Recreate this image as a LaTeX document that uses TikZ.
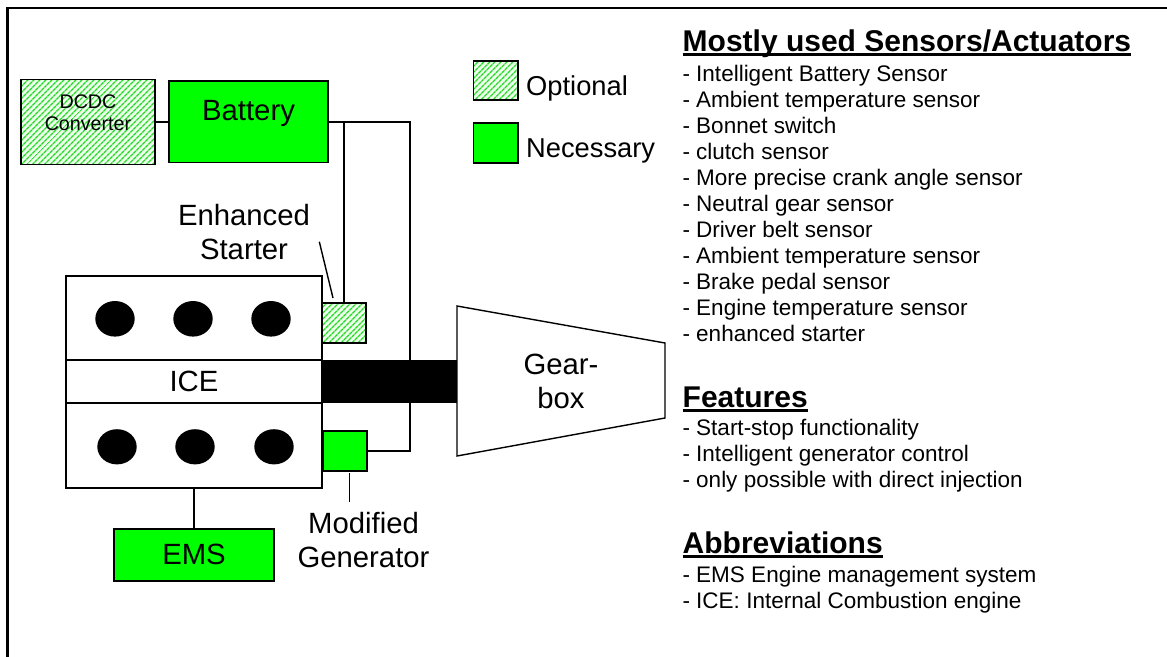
\documentclass[tikz,border=0pt]{standalone}
\usepackage{fontspec}
\setmainfont{Liberation Sans}
\usepackage{tikz}
\usetikzlibrary{positioning,calc,patterns.meta}
\definecolor{hatch}{RGB}{40,215,40}

\begin{document}
\begin{tikzpicture}[x=1pt,y=-1pt,
  lbl/.style={font=\fontsize{29.3}{34}\selectfont,align=center,inner sep=0pt},
  legtxt/.style={font=\fontsize{27.3}{32}\selectfont,inner sep=0pt,anchor=base west},
  head/.style={font=\fontsize{30}{34}\selectfont\bfseries,inner sep=0pt,anchor=base west},
  item/.style={font=\fontsize{22.5}{26}\selectfont,inner sep=0pt,anchor=base west},
  box/.style={draw,line width=1.6pt,inner sep=0pt,outer sep=0pt},
  need/.style={box,fill=green},
  opt/.style={box,preaction={fill=green!8},pattern={Lines[angle=45,distance=4pt,line width=1.6pt]},pattern color=hatch},
  wire/.style={line width=1.4pt}]
\useasboundingbox (0,0) rectangle (1167,656);
\draw[line width=2.5pt] (7.3,662) -- (7.3,8) -- (1172,8);
% power supply
\node[opt,minimum width=134pt,minimum height=85pt] (dcdc) at (87.7,121.8) {};
\node[need,right=14.3pt of dcdc,minimum width=159pt,minimum height=81.3pt] (battery) {};
\node[lbl,font=\fontsize{19.7}{22.7}\selectfont] (dcdctxt) at (88,112.6) {DCDC\\Converter};
\node[lbl,anchor=base] (battxt) at (248.5,120) {Battery};
% legend
\node[opt,minimum width=44.2pt,minimum height=39pt] (optbox) at (495.6,80.5) {};
\node[need,below=23pt of optbox,minimum width=44.2pt,minimum height=40pt] (needbox) {};
\node[legtxt] (opttxt) at (526,95) {Optional};
\node[legtxt] (needtxt) at (526,157) {Necessary};
% engine
\node[box,line width=1.8pt,anchor=north west,minimum width=256pt,minimum height=84pt] (eup) at (66,276) {};
\node[box,line width=1.8pt,below=0pt of eup,minimum width=256pt,minimum height=43pt,font=\fontsize{29.3}{34}\selectfont] (ice) {ICE};
\node[box,line width=1.8pt,below=0pt of ice,minimum width=256pt,minimum height=85pt] (elow) {};
\foreach \cx in {115,193,271} \fill (\cx,318.8) ellipse [x radius=19.7,y radius=17.8];
\foreach \cx in {117,195,274} \fill (\cx,446.8) ellipse [x radius=19.7,y radius=17.6];
\node[opt,anchor=north west,minimum width=44pt,minimum height=40pt] (starter) at (322,303) {};
\node[need,anchor=north west,minimum width=44pt,minimum height=40pt] (gen) at (323,431) {};
\node[need,below=41pt of elow,minimum width=159.6pt,minimum height=51.7pt,font=\fontsize{29.3}{34}\selectfont] (ems) {EMS};
% gearbox
\draw[wire] (457,306) coordinate (gtl) -- (665,343) coordinate (gtr)
  -- (665,418) coordinate (gbr) -- (457,456) coordinate (gbl) -- cycle;
\node[lbl] (gear) at (561,381.6) {Gear-\\box};
% wiring
\coordinate (bus) at ($(battery.east)+(82,0)$);
\draw[wire] (dcdc) -- (battery);
\draw[wire] (battery.east) -- (bus) |- (gen.east);
\draw[wire] (starter.north) -- (starter.north |- battery.east);
\draw[wire] (elow.south) -- (ems.north);
\fill (ice.north east) rectangle (ice.south -| gtl);
% labels with leaders
\node[lbl] (sttxt) at (244,232.5) {Enhanced\\Starter};
\coordinate (sttip) at (319.3,241.7);
\draw[wire] ([xshift=-11pt,yshift=5pt]starter.north) -- (sttip);
\node[lbl] (gentxt) at (363.5,539.8) {Modified\\Generator};
\coordinate (gentip) at (349.6,501.7);
\draw[wire] (gentip |- gen.south) ++(0,2) -- (gentip);
% text column
\node[head] (hsens) at (682.5,51.7) {Mostly used Sensors/Actuators};
\foreach \t [count=\i from 0] in {Intelligent Battery Sensor,Ambient temperature sensor,Bonnet switch,
  clutch sensor,More precise crank angle sensor,Neutral gear sensor,Driver belt sensor,
  Ambient temperature sensor,Brake pedal sensor,Engine temperature sensor,enhanced starter}
  \node[item] (s\i) at (682.3,81+26*\i) {- \t};
\node[head] (hfeat) at (682.5,407.3) {Features};
\foreach \t [count=\i from 0] in {Start-stop functionality,Intelligent generator control,
  only possible with direct injection}
  \node[item] (f\i) at (682.3,435.7+26*\i) {- \t};
\node[head] (habbr) at (682.5,553.3) {Abbreviations};
\node[item] (a0) at (682.3,582.3) {- EMS Engine management system};
\node[item] (a1) at (682.3,608.3) {- ICE: Internal Combustion engine};
\foreach \h in {hsens,hfeat,habbr}
  \draw[line width=3pt] ([yshift=-3pt]\h.base west) -- ([yshift=-3pt]\h.base east);
\end{tikzpicture}
\end{document}
